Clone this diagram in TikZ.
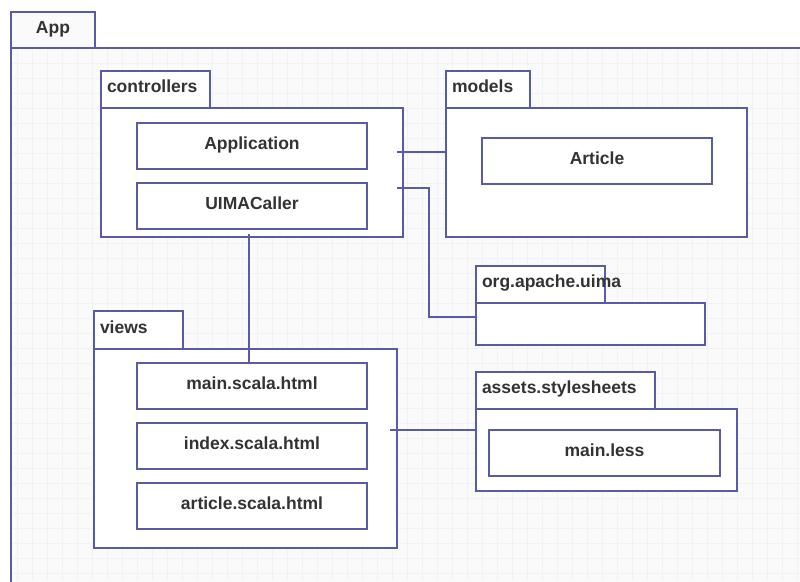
\documentclass[tikz,border=0pt]{standalone}
\usepackage{fontspec}
\setmainfont{Liberation Sans}
\usetikzlibrary{calc}

\definecolor{umlline}{RGB}{90,90,170}
\definecolor{umltext}{RGB}{51,51,51}
\definecolor{canvas}{RGB}{250,250,250}
\definecolor{gridline}{RGB}{242,242,244}

\tikzset{
  base/.style={draw=umlline, line width=2.7pt, fill=white, inner sep=0pt,
    outer sep=0pt, anchor=north west, text=umltext,
    text height=13pt, text depth=7pt,
    font=\fontsize{17.5}{20}\selectfont\bfseries},
  pkgtab/.style={base, minimum height=37pt, align=left, inner xsep=6pt},
  pkgbody/.style={base},
  classbox/.style={base, minimum width=230pt, minimum height=46pt},
  link/.style={draw=umlline, line width=2.7pt}
}

\begin{document}
\begin{tikzpicture}[x=1pt, y=-1pt]
  \useasboundingbox (0,0) rectangle (800,581);

  % App package: the body runs past the right and bottom edges
  \begin{scope}
    \clip (0,0) rectangle (800,581);
    \fill[canvas] (11,48) rectangle (810,590);
    \foreach \gx in {17,32,...,797} \draw[gridline, line width=0.8pt] (\gx,50) -- (\gx,581);
    \foreach \gy in {63,78,...,578} \draw[gridline, line width=0.8pt] (13,\gy) -- (800,\gy);
    \draw[umlline, line width=2.7pt] (11,590) -- (11,48) -- (810,48);
  \end{scope}
  \node[base, fill=canvas, minimum width=84pt, minimum height=36pt] (appTab) at (11,12) {App};

  % controllers
  \node[pkgbody, minimum width=302pt, minimum height=129pt] (ctrlBody) at (101,108) {};
  \node[pkgtab, text width=97pt] (ctrlTab) at (101,71) {controllers};
  \node[classbox] (appl) at (137,123) {Application};
  \node[classbox] (uima) at (137,183) {UIMACaller};

  % models
  \node[pkgbody, minimum width=301pt, minimum height=129pt] (modBody) at (446,108) {};
  \node[pkgtab, text width=72pt] (modTab) at (446,71) {models};
  \node[classbox] (article) at (482,138) {Article};

  % org.apache.uima
  \node[pkgbody, minimum width=229pt, minimum height=42pt] (uimaBody) at (476,303) {};
  \node[pkgtab, text width=117pt] (uimaTab) at (476,266) {org.apache.uima};

  % views
  \node[pkgbody, minimum width=303pt, minimum height=199pt] (viewsBody) at (94,349) {};
  \node[pkgtab, text width=77pt, minimum height=38pt] (viewsTab) at (94,311) {views};
  \node[classbox] (mainHtml) at (137,363) {main.scala.html};
  \node[classbox] (indexHtml) at (137,423) {index.scala.html};
  \node[classbox] (articleHtml) at (137,483) {article.scala.html};

  % assets.stylesheets
  \node[pkgbody, minimum width=261pt, minimum height=82pt] (assetsBody) at (476,409) {};
  \node[pkgtab, text width=167pt] (assetsTab) at (476,372) {assets.stylesheets};
  \node[classbox, minimum width=231pt] (mainLess) at (489,430) {main.less};

  % dependencies between packages
  \coordinate (ctrlToModels) at ($(ctrlBody.north east)+(-6,44)$);
  \draw[link] (ctrlToModels) -- (ctrlToModels -| modBody.west);

  \coordinate (ctrlToUima) at ($(ctrlBody.north east)+(-6,80)$);
  \coordinate (uimaEntry) at ($(uimaBody.north west)+(0,14)$);
  \coordinate (uimaBend) at ($(uimaEntry)+(-47,0)$);
  \draw[link] (ctrlToUima) -| (uimaBend) -- (uimaEntry);

  \coordinate (ctrlToViews) at ($(ctrlBody.south west)+(148,-3)$);
  \draw[link] (ctrlToViews) -- (ctrlToViews |- mainHtml.north);

  \coordinate (viewsToAssets) at ($(viewsBody.north east)+(-7,81)$);
  \draw[link] (viewsToAssets) -- (viewsToAssets -| assetsBody.west);
\end{tikzpicture}
\end{document}
